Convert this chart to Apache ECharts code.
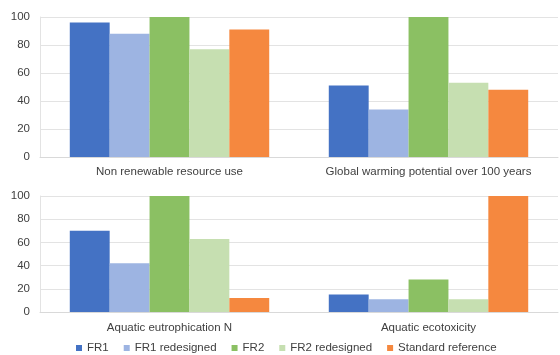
<!DOCTYPE html>
<html>
<head>
<meta charset="utf-8">
<script src="https://cdn.jsdelivr.net/npm/echarts@6/dist/echarts.min.js"></script>
<style>
  html, body { margin: 0; padding: 0; background: #ffffff; }
  #chart { width: 560px; height: 355px; }
</style>
</head>
<body>
<div id="chart"></div>
<script>
// Impact categories, two per panel row
const topCategories = ['Non renewable resource use', 'Global warming potential over 100 years'];
const bottomCategories = ['Aquatic eutrophication N', 'Aquatic ecotoxicity'];

// Series names (legend order)
const seriesNames = ['FR1', 'FR1 redesigned', 'FR2', 'FR2 redesigned', 'Standard reference'];
const seriesColors = ['#4472C4', '#9DB4E2', '#8BC063', '#C6DFB1', '#F5883F'];

// Relative scores (max = 100) for the upper panel
const topFR1 = [96, 51];
const topFR1Redesigned = [88, 34];
const topFR2 = [100, 100];
const topFR2Redesigned = [77, 53];
const topStandard = [91, 48];

// Relative scores for the lower panel
const bottomFR1 = [70, 15];
const bottomFR1Redesigned = [42, 11];
const bottomFR2 = [100, 28];
const bottomFR2Redesigned = [63, 11];
const bottomStandard = [12, 100];

// Y-axis ticks
const yTicks = [0, 20, 40, 60, 80, 100];

const topData = [topFR1, topFR1Redesigned, topFR2, topFR2Redesigned, topStandard];
const bottomData = [bottomFR1, bottomFR1Redesigned, bottomFR2, bottomFR2Redesigned, bottomStandard];

const textColor = '#404040';
const fontFamily = 'Liberation Sans, Arial, sans-serif';
const fontSize = 11.5;

function xAxisFor(gridIndex, cats, margin) {
  return {
    type: 'category',
    gridIndex: gridIndex,
    data: cats,
    axisTick: { show: false },
    axisLine: { lineStyle: { color: '#d9d9d9' } },
    axisLabel: {
      interval: 0,
      hideOverlap: false,
      color: textColor,
      fontSize: fontSize,
      fontFamily: fontFamily,
      margin: margin
    }
  };
}

function yAxisFor(gridIndex) {
  return {
    type: 'value',
    gridIndex: gridIndex,
    min: yTicks[0],
    max: yTicks[yTicks.length - 1],
    interval: yTicks[1] - yTicks[0],
    axisLine: { show: true, lineStyle: { color: '#e3e3e3' } },
    axisTick: { show: false },
    splitLine: { lineStyle: { color: '#e3e3e3' } },
    axisLabel: { color: textColor, fontSize: fontSize, fontFamily: fontFamily, margin: 10 }
  };
}

const series = [];
[topData, bottomData].forEach(function (panel, gi) {
  panel.forEach(function (values, i) {
    series.push({
      name: seriesNames[i],
      type: 'bar',
      xAxisIndex: gi,
      yAxisIndex: gi,
      data: values,
      barGap: '0%',
      barCategoryGap: '23%',
      itemStyle: { color: seriesColors[i] },
      emphasis: { disabled: true }
    });
  });
});

const chart = echarts.init(document.getElementById('chart'), null, { renderer: 'canvas' });
chart.setOption({
  animation: false,
  backgroundColor: '#ffffff',
  color: seriesColors,
  grid: [
    { left: 40, right: 2, top: 17, height: 140 },
    { left: 40, right: 2, top: 196, height: 116 }
  ],
  xAxis: [xAxisFor(0, topCategories, 9), xAxisFor(1, bottomCategories, 10)],
  yAxis: [yAxisFor(0), yAxisFor(1)],
  legend: {
    data: seriesNames,
    top: 340,
    left: 74,
    padding: 2,
    icon: 'rect',
    itemWidth: 6,
    itemHeight: 6,
    itemGap: 15,
    textStyle: { color: textColor, fontSize: fontSize, fontFamily: fontFamily }
  },
  series: series
});
</script>
</body>
</html>
